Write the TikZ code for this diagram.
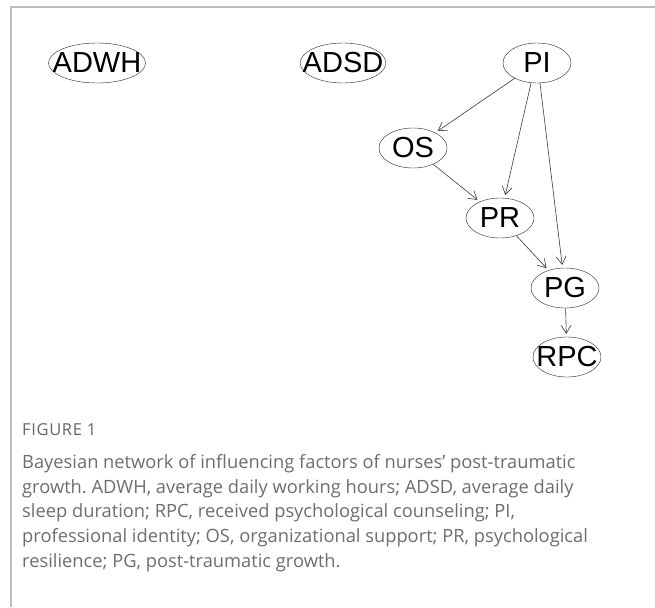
\documentclass[tikz,border=0pt]{standalone}
\usepackage{fontspec}
\setmainfont{Liberation Sans}
\newfontfamily\capfont{Open Sans}
\newfontfamily\figfont[LetterSpace=4]{Open Sans}
\usetikzlibrary{arrows.meta, shapes.geometric}
\definecolor{cLine}{HTML}{3A3A3A}
\definecolor{cCap} {HTML}{6E6E6E}
\definecolor{cRule}{HTML}{BDBDBD}
\frenchspacing

\begin{document}
\begin{tikzpicture}[x=1pt, y=1pt,
      var/.style     = {draw=black!85, ellipse, inner sep=-10pt, minimum height=40pt, minimum width=68pt, font=\fontsize{29}{29}\selectfont},
      ar/.style      = {-{Straight Barb[length=8pt, width=10pt]}, draw=cLine, line width=0.6pt, shorten >=3pt},
      captext/.style = {anchor=north west, align=left, inner sep=0pt, text=cCap} ]
    \useasboundingbox (0,0) rectangle (655,-607);
    \fill[white] (0,0) rectangle (655,-607);
    \draw[cRule, line width=1.3pt] (11,-607) -- (11,-7) -- (655,-7);

    % network nodes
    \node[var] (adwh) at (97,-63)  {ADWH};
    \node[var] (adsd) at (343,-63) {ADSD};
    \node[var] (pi)   at (537,-63) {PI};
    \node[var] (os)   at (413,-148) {OS};
    \node[var] (pr)   at (500,-218) {PR};
    \node[var] (pg)   at (565,-288) {PG};
    \node[var] (rpc)  at (567,-357) {RPC};

    \draw[ar] (pi) -- (os);
    \draw[ar] (pi.south) ++(-6,0) -- (pr);
    \draw[ar] (pi.south) ++(3,0) -- (pg);
    \draw[ar] (os) -- (pr);
    \draw[ar] (pr) -- (pg);
    \draw[ar] (pg) -- (rpc);

    % caption
    \node[captext, font=\figfont\fontsize{16.5}{16.5}\selectfont, text=black!60] (fig) at (22,-423) {FIGURE 1};
    \node[captext, font=\capfont\fontsize{18.3}{24.8}\selectfont] (txt) at (22,-454)
      {Bayesian network of influencing factors of nurses’ post-traumatic\\
       growth. ADWH, average daily working hours; ADSD, average daily\\
       sleep duration; RPC, received psychological counseling; PI,\\
       professional identity; OS, organizational support; PR, psychological\\
       resilience; PG, post-traumatic growth.};
\end{tikzpicture}
\end{document}
